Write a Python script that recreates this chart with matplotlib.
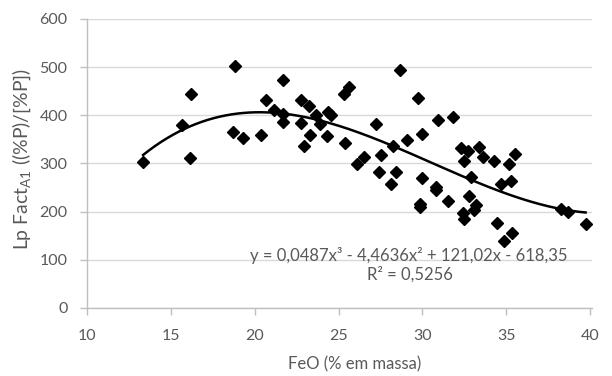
import matplotlib
matplotlib.use("Agg")
import matplotlib.pyplot as plt
import numpy as np

plt.rcParams['font.family'] = ['Lato', 'DejaVu Sans']
plt.rcParams['mathtext.fontset'] = 'custom'
plt.rcParams['mathtext.rm'] = 'Lato'
plt.rcParams['mathtext.it'] = 'Lato'

feo = [13.35, 15.69, 16.22, 16.16, 18.8, 18.73, 19.33, 20.38, 20.7, 21.13,
       21.7, 21.72, 21.67, 22.77, 23.23, 22.75, 23.29, 22.97, 23.65, 23.88,
       24.4, 24.55, 24.34, 25.33, 25.63, 25.37, 26.08, 26.54, 27.21, 27.53,
       27.43, 28.12, 28.4, 28.26, 28.66, 29.11, 29.73, 29.95, 29.99, 29.83,
       29.83, 30.95, 31.85, 30.83, 30.83, 31.52, 32.32, 32.71, 32.5, 33.35,
       33.61, 34.28, 32.8, 32.42, 32.5, 33.19, 33.05, 34.44, 35.17, 32.92,
       34.7, 35.27, 35.37, 34.84, 35.53, 38.27, 38.7, 39.73]
lp = [304, 379, 444, 311, 503, 366, 352, 359, 432, 412,
      473, 403, 387, 432, 419, 384, 359, 337, 401, 382,
      406, 401, 358, 445, 459, 343, 298, 313, 381, 317,
      282, 257, 282, 337, 495, 349, 436, 361, 270, 215,
      210, 391, 397, 252, 244, 222, 332, 325, 306, 334,
      313, 306, 233, 197, 184, 213, 203, 176, 299, 272,
      258, 263, 156, 139, 320, 205, 199, 175]

coef = [0.0487, -4.4636, 121.02, -618.35]
eq_text = "y = 0,0487x³ - 4,4636x² + 121,02x - 618,35"
r2_text = "R² = 0,5256"
x_label = "FeO (% em massa)"
y_label = "Lp Fact$_{\\mathrm{A1}}$ ((%P)/[%P])"

xticks = [10, 15, 20, 25, 30, 35, 40]
yticks = [0, 100, 200, 300, 400, 500, 600]

gray = '#595959'
W, H = 612, 376
fig = plt.figure(figsize=(W / 100, H / 100), dpi=100)
ax = fig.add_axes([0.142, 0.181, 0.825, 0.7685])

xs = np.linspace(min(feo), max(feo), 300)
ax.plot(xs, np.polyval(coef, xs), color='black', lw=1.8, zorder=3)
ax.plot(feo, lp, linestyle='none', marker='D', ms=6, color='black', zorder=4)

ax.set_xlim(10, 40.1)
ax.set_ylim(0, 600)
ax.set_xticks(xticks)
ax.set_yticks(yticks)
ax.grid(axis='y', color='#d9d9d9', lw=1)
ax.set_axisbelow(True)
for s in ['top', 'right']:
    ax.spines[s].set_visible(False)
for s in ['left', 'bottom']:
    ax.spines[s].set_color('#bfbfbf')
    ax.spines[s].set_linewidth(1)
ax.tick_params(axis='both', colors='#bfbfbf', labelcolor=gray, labelsize=11.5, length=5, width=1)
ax.tick_params(axis='x', pad=10)
ax.tick_params(axis='y', pad=9)

fig.text(355 / W, 1 - 364 / H, x_label, ha='center', va='center', color=gray, fontsize=12)
yl = fig.text(22 / W, 1 - 159 / H, y_label, ha='center', va='center', color=gray,
              fontsize=12, rotation=90)
# scale y-label font so its length matches the reference (~182 px)
fig.canvas.draw()
ext = yl.get_window_extent()
yl.set_fontsize(12 * 182 / ext.height)

fig.text(409 / W, 1 - 255 / H, eq_text, ha='center', va='center', color=gray, fontsize=12)
fig.text(410 / W, 1 - 274 / H, r2_text, ha='center', va='center', color=gray, fontsize=12)

fig.savefig("out.png", dpi=100)
